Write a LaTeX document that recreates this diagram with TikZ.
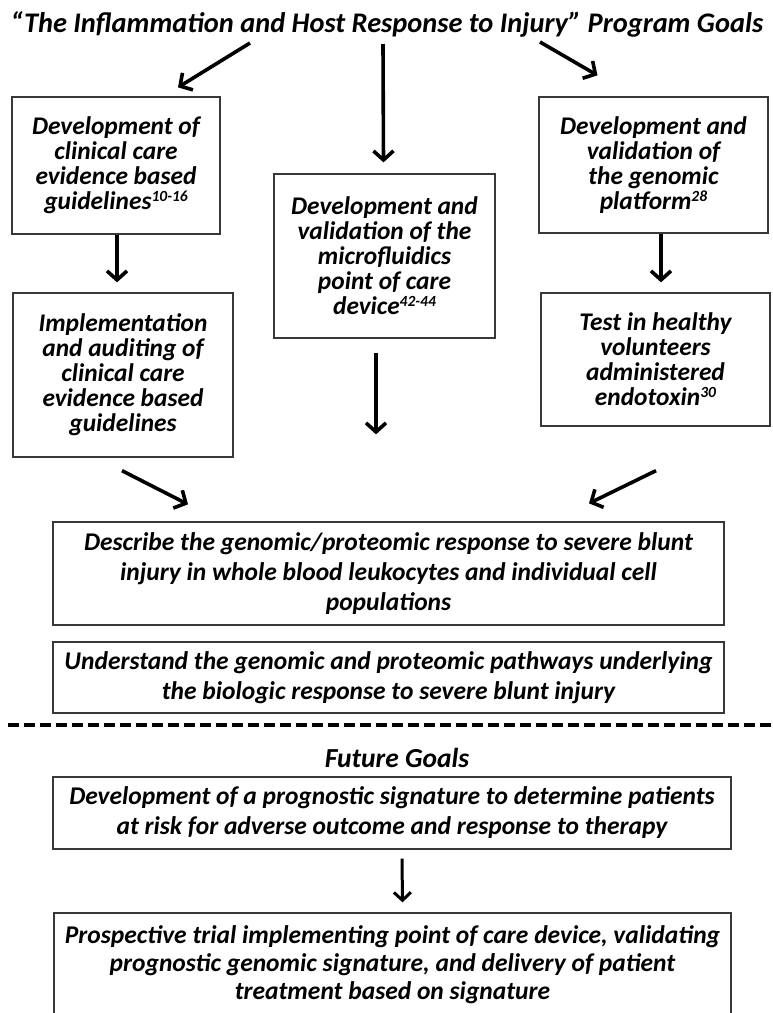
\documentclass[tikz,border=0pt]{standalone}
\usepackage{fontspec}
\setmainfont{Carlito}
\usetikzlibrary{arrows.meta,calc}
\newcommand\supr[1]{\raisebox{8pt}{\fontsize{15.5}{15.5}\selectfont #1}}
\tikzset{
  box/.style={draw=black!78, line width=1.3pt, align=center, inner sep=0pt, font=\fontsize{25.4}{25}\selectfont\bfseries\itshape},
  widebox/.style={box, font=\fontsize{25.5}{30}\selectfont\bfseries\itshape},
  arr/.style={line width=3.6pt, -{Straight Barb[length=9pt,width=20pt]}},
  thinarr/.style={line width=3pt, -{Straight Barb[length=8pt,width=17pt]}},
  heading/.style={inner sep=0pt, anchor=base, font=\fontsize{28.4}{28}\selectfont\bfseries\itshape},
  sepline/.style={line width=4pt, dash pattern=on 11pt off 5pt}
}
\begin{document}
\begin{tikzpicture}[x=1pt,y=-1pt]
\useasboundingbox[fill=white] (0,0) rectangle (773,1013);

\node[heading] (title) at (387,32) {“The Inflammation and Host Response to Injury” Program Goals};

\node[box, minimum width=208pt, minimum height=137pt] (L1) at (116,165.5)
  {Development of\\clinical care\\evidence based\\guidelines\supr{10-16}};
\node[box, minimum width=221pt, minimum height=164pt] (C1) at (384.5,256)
  {Development and\\validation of the\\microfluidics\\point of care\\device\supr{42-44}};
\node[box, minimum width=229pt, minimum height=136pt] (R1) at (653.5,165)
  {Development and\\validation of\\the genomic\\platform\supr{28}};
\node[box, minimum width=220pt, minimum height=164pt] (L2) at (123,375)
  {Implementation\\and auditing of\\clinical care\\evidence based\\guidelines};
\node[box, minimum width=229pt, minimum height=133pt] (R2) at (655.5,359.5)
  {Test in healthy\\volunteers\\administered\\endotoxin\supr{30}};
\node[widebox, minimum width=671pt, minimum height=103pt] (D) at (388.5,573.5)
  {Describe the genomic/proteomic response to severe blunt\\injury in whole blood leukocytes and individual cell\\populations};
\node[widebox, minimum width=671pt, minimum height=71pt] (U) at (388.5,677.5)
  {Understand the genomic and proteomic pathways underlying\\the biologic response to severe blunt injury};

\coordinate (sepL) at (8,725);
\coordinate (sepR) at (773,725);
\draw[sepline] (sepL) -- (sepR);

\node[heading, font=\fontsize{27.5}{27}\selectfont\bfseries\itshape] (future) at (397,767) {Future Goals};
\node[widebox, minimum width=678pt, minimum height=72pt] (F1) at (392,813)
  {Development of a prognostic signature to determine patients\\at risk for adverse outcome and response to therapy};
\node[widebox, font=\fontsize{25.5}{28}\selectfont\bfseries\itshape, minimum width=677pt, minimum height=104pt] (F2) at (392.5,965)
  {Prospective trial implementing point of care device, validating\\prognostic genomic signature, and delivery of patient\\treatment based on signature};

\draw[arr] ($(title.south)+(-137,6)$) -- ($(L1.north)+(62,-9)$);
\draw[arr] ($(title.south)+(-4,7)$) -- ($(C1.north)+(-1,-11)$);
\draw[arr] ($(title.south)+(153,5)$) -- ($(R1.north)+(-56,-21)$);
\draw[arr] ($(L1.south)+(1,0)$) -- ($(L2.north)+(-6,-10)$);
\draw[arr] ($(R1.south)+(7.5,0)$) -- ($(R2.north)+(5.5,-10)$);
\draw[arr] ($(C1.south)+(-8.5,14)$) -- ($(D.north)+(-12.5,-87)$);
\draw[arr] ($(L2.south)+(-1,13)$) -- ($(D.north)+(-200.5,-17)$);
\draw[arr] ($(R2.south)+(0.5,44)$) -- ($(D.north)+(200.5,-18)$);
\draw[thinarr] ($(F1.south)+(10,9)$) -- ($(F2.north)+(10,-10)$);
\end{tikzpicture}
\end{document}
